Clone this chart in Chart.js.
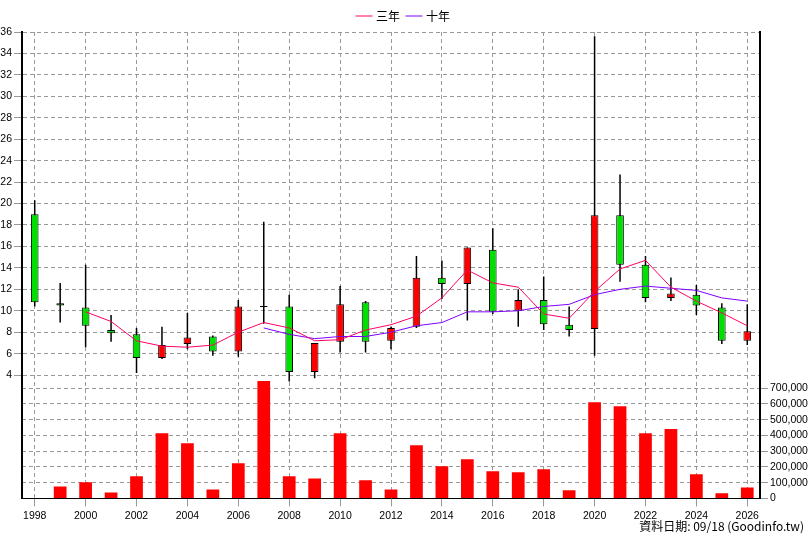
<!DOCTYPE html>
<html><head><meta charset="utf-8">
<script src="https://cdn.jsdelivr.net/npm/chart.js@4"></script>
<style>body{margin:0;background:#fff;font-family:"Noto Sans CJK TC",Arial,sans-serif}#w{position:relative;width:808px;height:540px}
#note{position:absolute;right:4px;bottom:6px;font-size:12px;color:#000}</style></head>
<body><div id="w"><canvas id="c" width="808" height="540"></canvas><div id="note">資料日期: 09/18 (Goodinfo.tw)</div></div>
<script>
const years=[1998,1999,2000,2001,2002,2003,2004,2005,2006,2007,2008,2009,2010,2011,2012,2013,2014,2015,2016,2017,2018,2019,2020,2021,2022,2023,2024,2025,2026];
const openP =[19,10.7,10.3,8.2,7.8,5.6,6.9,7.6,6.2,10.4,10.4,4.3,7.1,10.8,7.2,8.5,13.07,12.5,15.7,10.0,11.0,8.7,8.3,18.9,14.3,11.2,11.5,10.3,7.2];
const closeP=[10.8,10.5,8.6,7.9,5.6,6.8,7.5,6.2,10.4,10.4,4.3,7.0,10.6,7.1,8.4,13.07,12.5,15.9,9.9,11.0,8.75,8.2,18.9,14.3,11.2,11.6,10.5,7.2,8.1];
const highP =[20.3,12.6,14.3,9.6,8.4,8.5,9.8,7.7,11.0,18.3,11.5,7.0,12.3,10.9,8.5,15.1,14.7,15.9,17.7,12.0,13.2,10.4,35.6,22.7,15.1,13.1,12.4,10.7,10.6];
const lowP  =[10.4,8.9,6.6,7.1,4.2,5.5,6.4,5.8,5.7,8.8,3.4,3.7,6.1,6.1,6.4,8.4,11.1,9.1,9.7,8.5,8.2,7.6,5.8,12.7,10.8,10.9,9.6,6.9,6.8];
const ma3 =[null,null,9.9,9.0,7.2,6.7,6.6,6.8,8.0,8.9,8.4,7.2,7.3,8.2,8.7,9.5,11.2,13.8,12.6,12.2,9.7,9.3,11.8,13.9,14.7,12.2,10.9,9.8,8.6];
const ma10=[null,null,null,null,null,null,null,null,null,8.4,7.8,7.4,7.6,7.6,8.0,8.6,8.9,9.9,9.9,10.0,10.4,10.6,11.5,12.0,12.3,12.1,11.9,11.2,10.9];
const volume=[3000,76000,102000,38000,140000,414000,350000,57000,223000,745000,140000,127000,414000,115000,57000,338000,204000,248000,172000,166000,185000,51000,611000,586000,414000,440000,153000,32000,70000];

const bodies=openP.map((o,i)=>{let a=Math.min(o,closeP[i]),b=Math.max(o,closeP[i]);if(b-a<0.1){a-=0.05;b+=0.05;}return [a,b];});
const bodyCol=openP.map((o,i)=>closeP[i]>o?'#ff0000':'#00e000');
const wicks=highP.map((h,i)=>[lowP[i],h]);
const tickFont={size:10.5,family:'Arial, "Liberation Sans"'};
new Chart(document.getElementById('c'),{
 data:{labels:years,datasets:[
  {type:'line',label:'三年',data:ma3,borderColor:'#ff0066',borderWidth:1,pointRadius:0,yAxisID:'y',order:0},
  {type:'line',label:'十年',data:ma10,borderColor:'#8000ff',borderWidth:1,pointRadius:0,yAxisID:'y',order:0},
  {type:'bar',label:'body',data:bodies,backgroundColor:bodyCol,borderColor:'#000',borderWidth:1,borderSkipped:false,grouped:false,barPercentage:0.3,categoryPercentage:1,yAxisID:'y',order:1},
  {type:'bar',label:'wick',data:wicks,backgroundColor:'#000',grouped:false,maxBarThickness:1.5,yAxisID:'y',order:2},
  {type:'bar',label:'vol',data:volume,backgroundColor:'#ff0000',grouped:false,barPercentage:0.5,categoryPercentage:1,yAxisID:'v',order:3}
 ]},
 options:{animation:false,responsive:false,
  layout:{padding:{top:2,right:0,left:0,bottom:15}},
  plugins:{legend:{position:'top',labels:{filter:i=>i.text==='三年'||i.text==='十年',usePointStyle:true,pointStyle:'line',boxWidth:14,font:{size:12,family:'"Noto Sans CJK TC"'},color:'#000',padding:8}},tooltip:{enabled:false}},
  scales:{
   x:{offset:true,grid:{offset:false,lineWidth:1,color:c=>years[c.index]%2===0?'#999':'transparent'},border:{display:true,color:'#000',width:1,dash:[4,3]},
      ticks:{autoSkip:false,maxRotation:0,color:'#000',font:tickFont,callback:(v,i)=>years[i]%2===0?years[i]:''}},
   y:{position:'left',min:-7.5,max:36,afterBuildTicks:s=>{s.ticks=[];for(let t=4;t<=36;t+=2)s.ticks.push({value:t});},
      afterFit:s=>{s.width=22},grid:{color:'#999'},border:{display:true,color:'#000',width:2,dash:[4,3]},ticks:{color:'#000',font:tickFont,padding:2}},
   v:{position:'right',min:0,max:2962000,afterBuildTicks:s=>{s.ticks=[];for(let t=0;t<=700000;t+=100000)s.ticks.push({value:t});},
      afterFit:s=>{s.width=48},grid:{color:'#999'},border:{display:true,color:'#000',width:2,dash:[4,3]},ticks:{color:'#000',font:tickFont,padding:2,callback:v=>v.toLocaleString('en-US')}}
  }}
});
</script></body></html>
